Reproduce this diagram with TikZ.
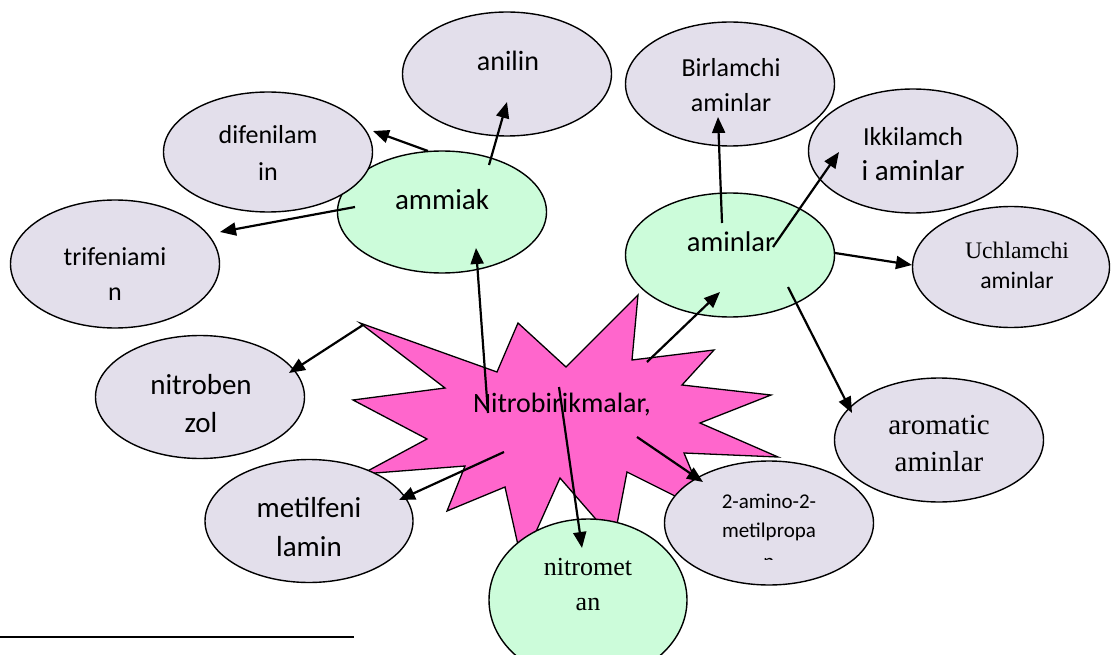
\documentclass[tikz,border=0pt]{standalone}
\usepackage{fontspec}
\setmainfont{Carlito}
\newfontfamily\timesfont{Liberation Serif}
\usetikzlibrary{shapes.geometric,arrows.meta}
\definecolor{lav}{RGB}{227,223,235}
\definecolor{mint}{RGB}{204,252,218}
\definecolor{burst}{RGB}{255,102,204}

\begin{document}
\begin{tikzpicture}
[x=1pt,y=-1pt,every node/.style={inner sep=0pt},
oval/.style={ellipse,draw,line width=1.4pt,fill=lav,minimum width=209pt,minimum height=124pt},
txt/.style={align=center},
arr/.style={line width=2.2pt,-{Triangle[length=16pt,width=13pt]}}]
\useasboundingbox (0,0) rectangle (1111,655);
\clip (0,0) rectangle (1111,655);

% the burst
\draw[fill=burst,line width=1.3pt] (360,323) -- (497,372) -- (518,323) -- (566,367) -- (638,295)
  -- (632,360) -- (714,350) -- (682,385) -- (771,395) -- (700,423) -- (778,457) -- (684,453)
  -- (709,513) -- (627,472) -- (614,540) -- (560,478) -- (522,563) -- (505,487) -- (447,511)
  -- (465,466) -- (362,474) -- (427,439) -- (353,400) -- (445,388) -- cycle;

% ovals
\node[oval] (anilin) at (507,74) {};
\node[oval,fill=mint,minimum height=122pt] (ammiak) at (442,212) {};
\node[oval,minimum height=120pt] (difenilamin) at (268,152) {};
\node[oval,minimum height=128pt] (trifeniamin) at (115,264) {};
\node[oval] (birlamchi) at (730,84) {};
\node[oval] (ikkilamchi) at (913,151) {};
\node[oval,fill=mint] (aminlar) at (730,255) {};
\node[oval,minimum width=197pt,minimum height=121pt] (uchlamchi) at (1011,267) {};
\node[oval,minimum height=123pt] (nitrobenzol) at (200,397) {};
\node[oval,minimum width=208pt,minimum height=123pt] (metilfenilamin) at (309,521) {};
\node[oval] (aromatic) at (939,440) {};
\node[oval] (aminopropan) at (769,523) {};
\node[oval,fill=mint,minimum width=198pt,minimum height=162pt] (nitrometan) at (588,600) {};

% texts
\node[txt,font=\fontsize{28}{34}\selectfont] (anilin-t) at (508,61) {anilin};
\node[txt,font=\fontsize{29}{35}\selectfont] (ammiak-t) at (442,200) {ammiak};
\node[txt,font=\fontsize{26}{37}\selectfont] (difenilamin-t) at (268,153) {difenilam\\in};
\node[txt,font=\fontsize{26}{35}\selectfont] (trifeniamin-t) at (115,274) {trifeniami\\n};
\node[txt,font=\fontsize{26}{35}\selectfont] (birlamchi-t) at (731,85) {Birlamchi\\aminlar};
\node[txt,font=\fontsize{26}{35}\selectfont] (ikkilamchi-t) at (913,154)
  {Ikkilamch\\{\fontsize{29}{35}\selectfont i aminlar}};
\node[txt,font=\fontsize{28.5}{35}\selectfont] (aminlar-t) at (731,242) {aminlar};
\node[txt,font=\fontsize{23.7}{30}\selectfont] (uchlamchi-t) at (1017,265) {{\timesfont Uchlamchi}\\aminlar};
\node[txt,font=\fontsize{29}{38}\selectfont] (nitrobenzol-t) at (201,404) {nitroben\\zol};
\node[txt,font=\fontsize{29}{39}\selectfont] (metilfenilamin-t) at (309,527) {metilfeni\\lamin};
\node[txt,font=\fontsize{28}{34}\selectfont] (burst-t) at (562,405) {Nitrobirikmalar,};
\node[txt,font=\timesfont\fontsize{29}{37}\selectfont] (aromatic-t) at (939,444) {aromatic\\aminlar};
\node[txt,font=\fontsize{21}{29}\selectfont] (aminopropan-t) at (769,517) {2-amino-2-\\metilpropa};
\node[txt,font=\timesfont\fontsize{26}{35}\selectfont] (nitrometan-t) at (588,585) {nitromet\\an};
\begin{scope}
\clip (760,555) rectangle (778,559);
\node[txt,font=\fontsize{21}{29}\selectfont] (aminopropan-cut) at (769,563) {n};
\end{scope}

% arrow ends
\coordinate (s1) at (489,165);  \coordinate (e1) at (507,102);
\coordinate (s2) at (428,151);  \coordinate (e2) at (373,131);
\coordinate (s3) at (355,207);  \coordinate (e3) at (220,232);
\coordinate (s4) at (488,413);  \coordinate (e4) at (476,248);
\coordinate (s5) at (647,362);  \coordinate (e5) at (720,292);
\coordinate (s6) at (559,387);  \coordinate (e6) at (582,548);
\coordinate (s7) at (637,437);  \coordinate (e7) at (703,482);
\coordinate (s8) at (504,452);  \coordinate (e8) at (399,500);
\coordinate (s9) at (363,325);  \coordinate (e9) at (289,373);
\coordinate (s10) at (722,223); \coordinate (e10) at (718,117);
\coordinate (s11) at (773,247); \coordinate (e11) at (839,152);
\coordinate (s12) at (835,253); \coordinate (e12) at (912,265);
\coordinate (s13) at (788,287); \coordinate (e13) at (852,413);
\foreach \from/\to in {s1/e1,s2/e2,s3/e3,s4/e4,s5/e5,s6/e6,s7/e7,s8/e8,s9/e9,s10/e10,s11/e11,s12/e12,s13/e13}
\draw[arr] (\from) -- (\to);

\coordinate (rule-l) at (0,637);
\coordinate (rule-r) at (354,637);
\draw[line width=1.5pt] (rule-l) -- (rule-r);

\end{tikzpicture}
\end{document}
